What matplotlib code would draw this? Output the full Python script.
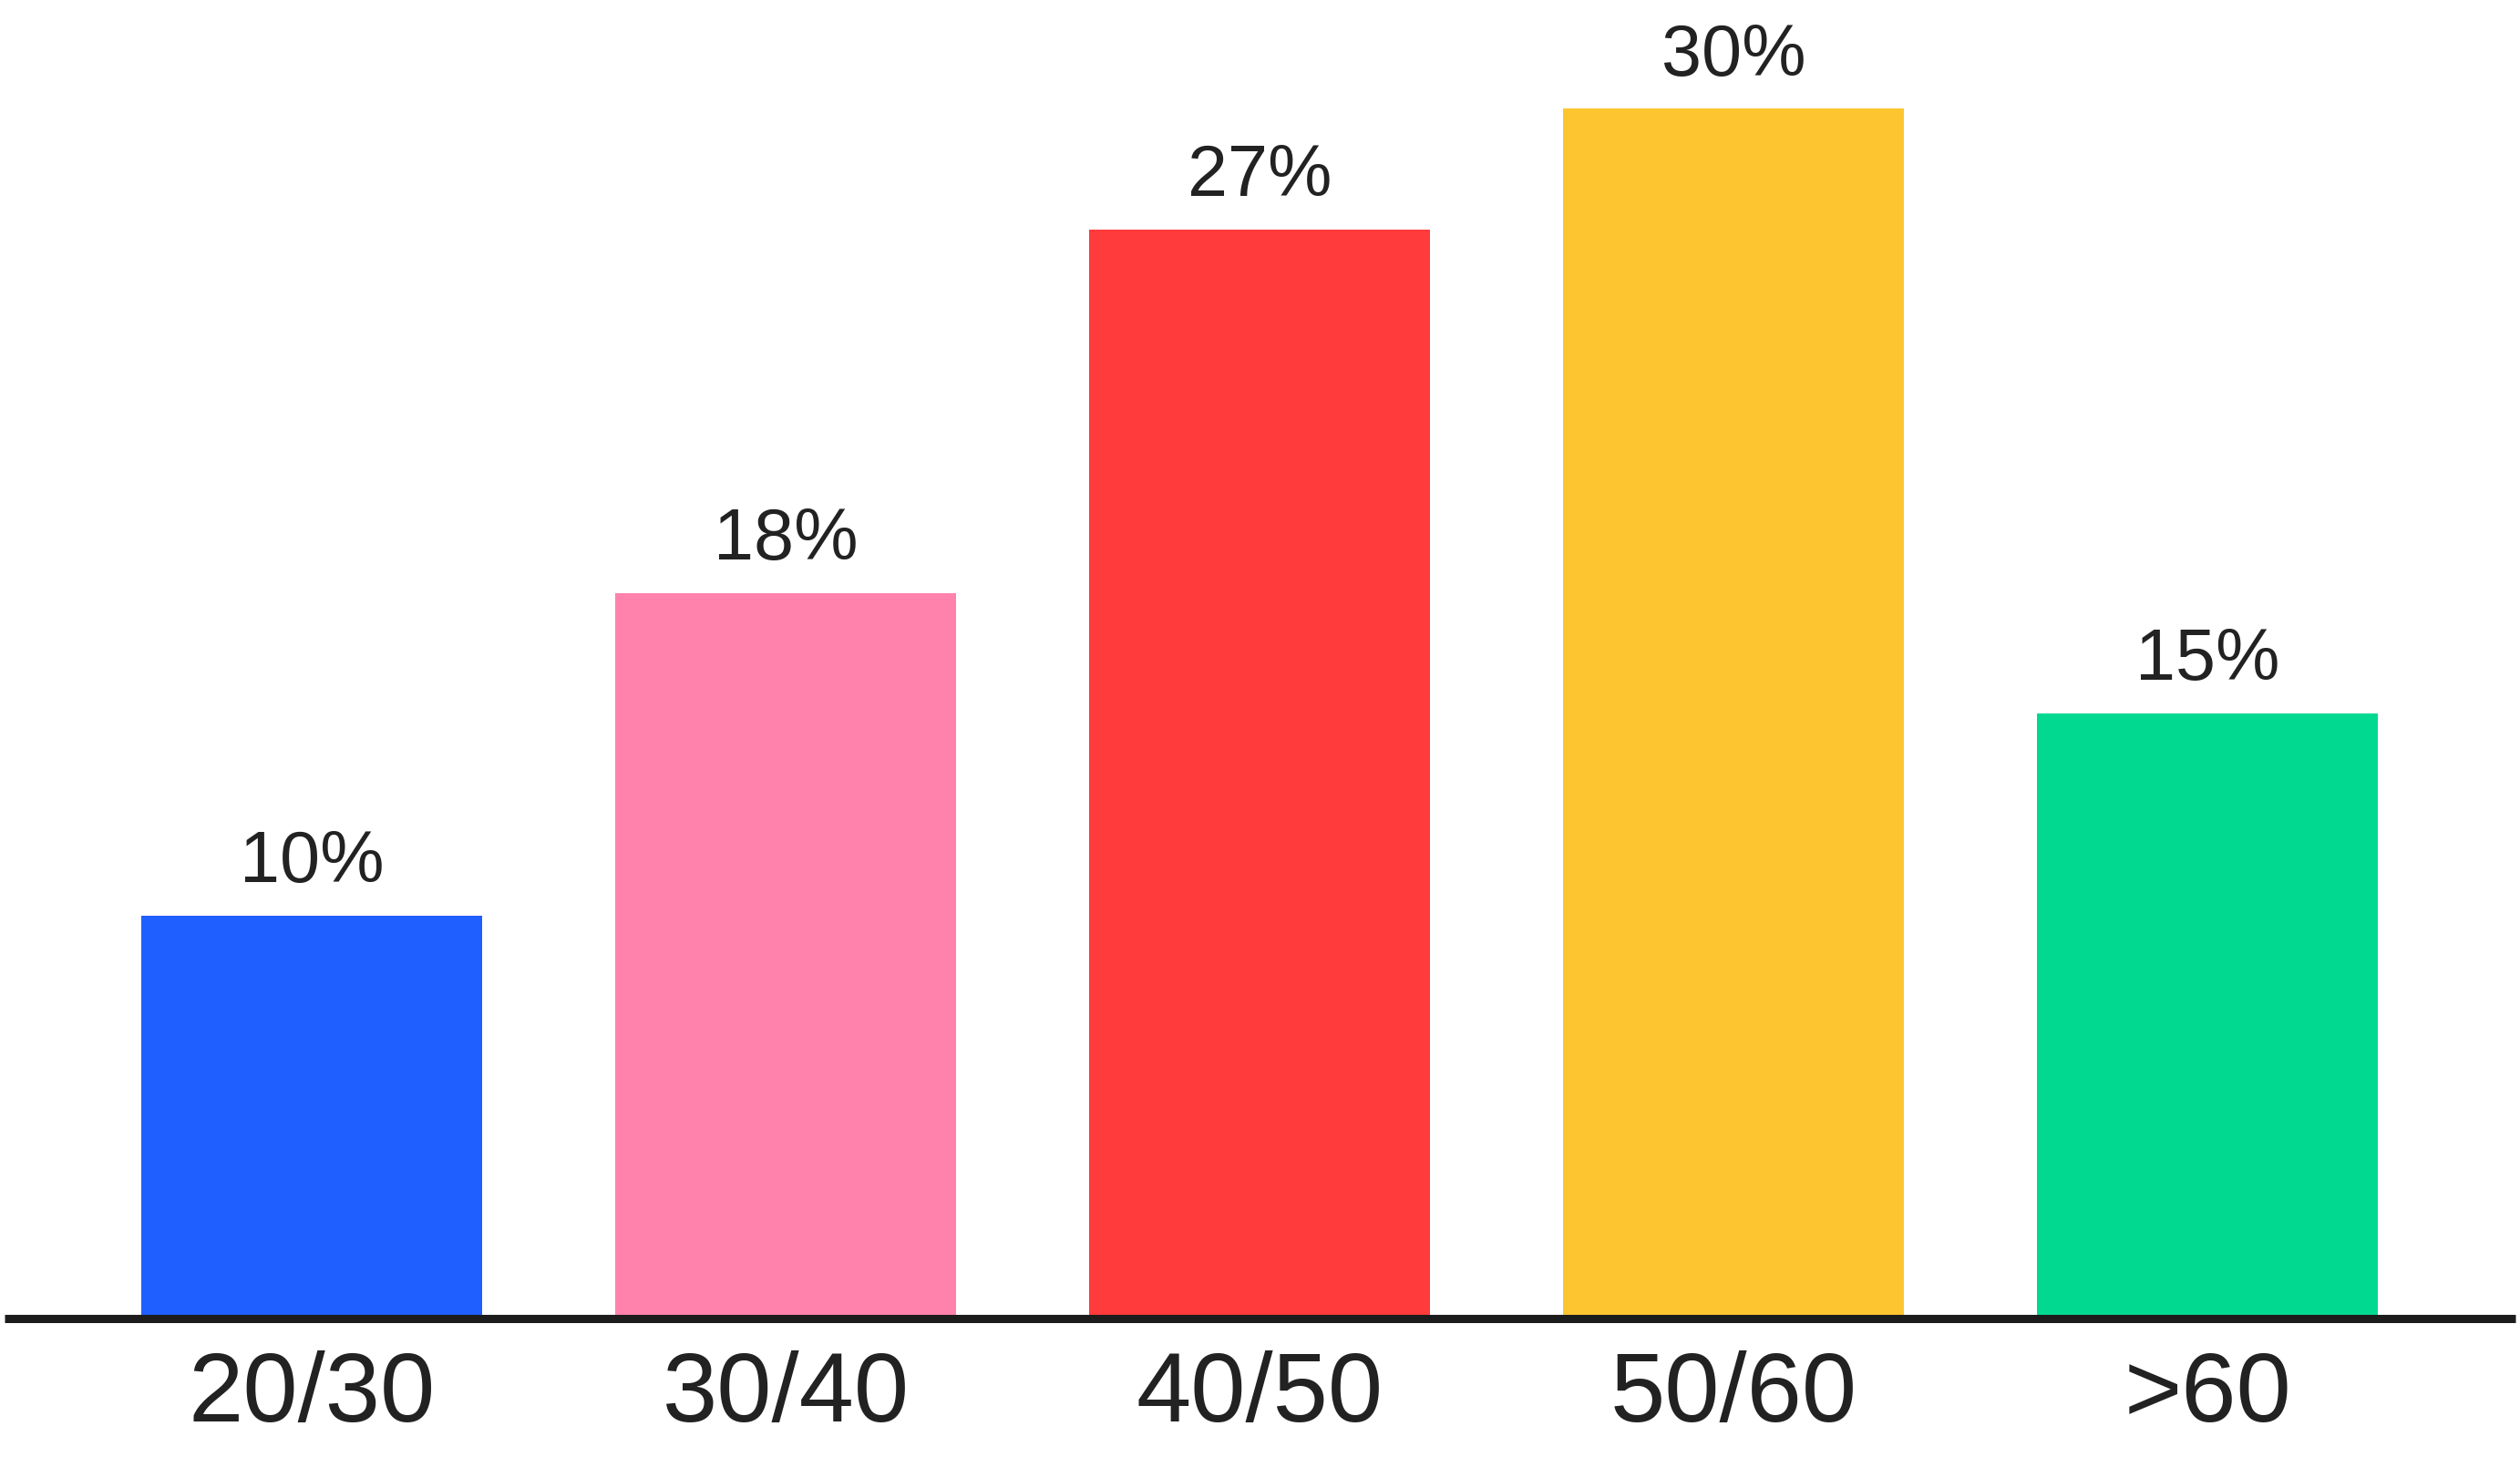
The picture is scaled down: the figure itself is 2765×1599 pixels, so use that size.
import matplotlib
matplotlib.use('Agg')
import matplotlib.pyplot as plt

# Data
categories = ['20/30', '30/40', '40/50', '50/60', '>60']
values = [10, 18, 27, 30, 15]
labels = ['10%', '18%', '27%', '30%', '15%']
colors = ['#1F5EFF', '#FF82AC', '#FF3B3B', '#FDC530', '#02D990']

plt.rcParams['font.family'] = ['Liberation Sans', 'DejaVu Sans']

fig = plt.figure(figsize=(27.65, 15.99), dpi=100)
ax = fig.add_axes([0.0018, 0.095, 0.9965, 0.905])

x = range(len(categories))
ax.bar(x, values, width=0.72, color=colors)

# value labels above bars
for xi, v, lab in zip(x, values, labels):
    ax.text(xi, v + 0.45, lab, ha='center', va='bottom', fontsize=57, color='#222222')

ax.set_xlim(-0.648, 4.65)
ax.set_ylim(0, 32.7)

ax.set_xticks(list(x))
ax.set_xticklabels(categories, fontsize=78, color='#222222')
ax.tick_params(axis='x', length=0, pad=25)
ax.set_yticks([])

for side in ['top', 'left', 'right']:
    ax.spines[side].set_visible(False)
ax.spines['bottom'].set_linewidth(6.5)
ax.spines['bottom'].set_color('#1c1c1c')
ax.spines['bottom'].set_capstyle('butt')

fig.savefig('out.png', dpi=100)
